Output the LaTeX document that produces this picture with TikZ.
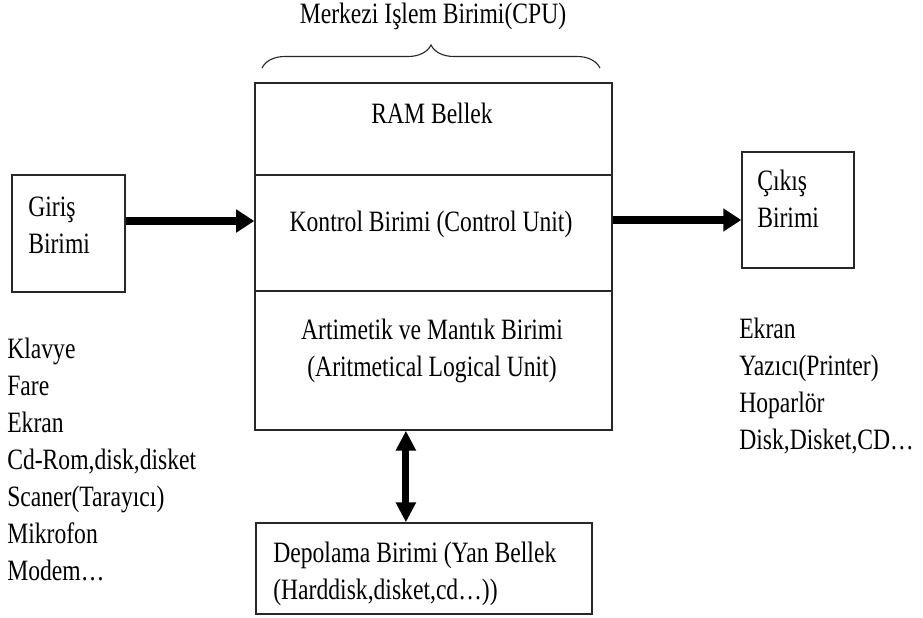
\documentclass[tikz,border=0pt]{standalone}
\usepackage{fontspec}
\setmainfont{Liberation Serif}[FakeStretch=0.8]
\usetikzlibrary{arrows.meta,positioning,decorations.pathreplacing}
\definecolor{cizgi}{RGB}{40,40,40}

\begin{document}
\begin{tikzpicture}[x=0.025cm, y=-0.025cm,
        kutu/.style={draw=cizgi, line width=1pt, inner sep=0pt},
        yazi/.style={inner sep=0pt, font=\fontsize{21}{26.3}\selectfont},
        liste/.style={yazi, anchor=north west, align=left},
        kalinok/.style={line width=5pt, -{Triangle[length=0.45cm,width=0.55cm]}},
        ciftok/.style={line width=5pt, {Triangle[length=0.5cm,width=0.48cm]}-{Triangle[length=0.5cm,width=0.48cm]}}]
        \useasboundingbox (0,0) rectangle (923,618);

        % merkezi islem birimi
        \node[kutu, minimum width=8.925cm, minimum height=2.3cm] (ram) at (433.5,129) {};
        \node[kutu, minimum width=8.925cm, minimum height=2.9cm] (kontrol) at (433.5,233) {};
        \node[kutu, minimum width=8.925cm, minimum height=3.475cm] (alu) at (433.5,360.5) {};
        \node[yazi] (ramyazi) at (432,113) {RAM Bellek};
        \node[yazi] (kontrolyazi) at (431,224) {Kontrol Birimi (Control Unit)};
        \node[yazi, align=center] (aluyazi) at (432,351) {Artimetik ve Mantık Birimi\\(Aritmetical Logical Unit)};

        % ust kume parantezi
        \coordinate (parA) at (262,68);
        \coordinate (parB) at (600,68);
        \draw[draw=cizgi, line width=0.8pt, decorate, decoration={brace, amplitude=0.575cm}] (parA) -- (parB);
        \node[yazi] (baslik) at (433,16) {Merkezi Işlem Birimi(CPU)};

        % giris ve cikis
        \node[kutu, minimum width=2.825cm, minimum height=2.925cm] (giris) at (68.5,233.5) {};
        \node[liste] (girisyazi) at (28,197) {Giriş\\Birimi};
        \node[kutu, minimum width=2.8cm, minimum height=2.9cm] (cikis) at (798,210) {};
        \node[liste] (cikisyazi) at (757,170) {Çıkış\\Birimi};

        % depolama
        \node[kutu, minimum width=8.4cm, minimum height=2.275cm] (depo) at (424,568.5) {};
        \node[liste] (depoyazi) at (273,542) {Depolama Birimi (Yan Bellek\\(Harddisk,disket,cd…))};

        % aygit listeleri
        \node[liste] (girdiler) at (7,338) {Klavye\\Fare\\Ekran\\Cd-Rom,disk,disket\\Scaner(Tarayıcı)\\Mikrofon\\Modem…};
        \node[liste] (ciktilar) at (739,318) {Ekran\\Yazıcı(Printer)\\Hoparlör\\Disk,Disket,CD…};

        % oklar
        \draw[kalinok] ([yshift=0.3125cm]giris.east) -- ([yshift=0.3125cm]giris.east -| kontrol.west);
        \draw[kalinok] ([yshift=0.325cm]kontrol.east) -- ([yshift=0.325cm]kontrol.east -| cikis.west);
        \draw[ciftok] ([xshift=-0.69cm]alu.south) -- ([xshift=-0.69cm]alu.south |- depo.north);
\end{tikzpicture}
\end{document}
